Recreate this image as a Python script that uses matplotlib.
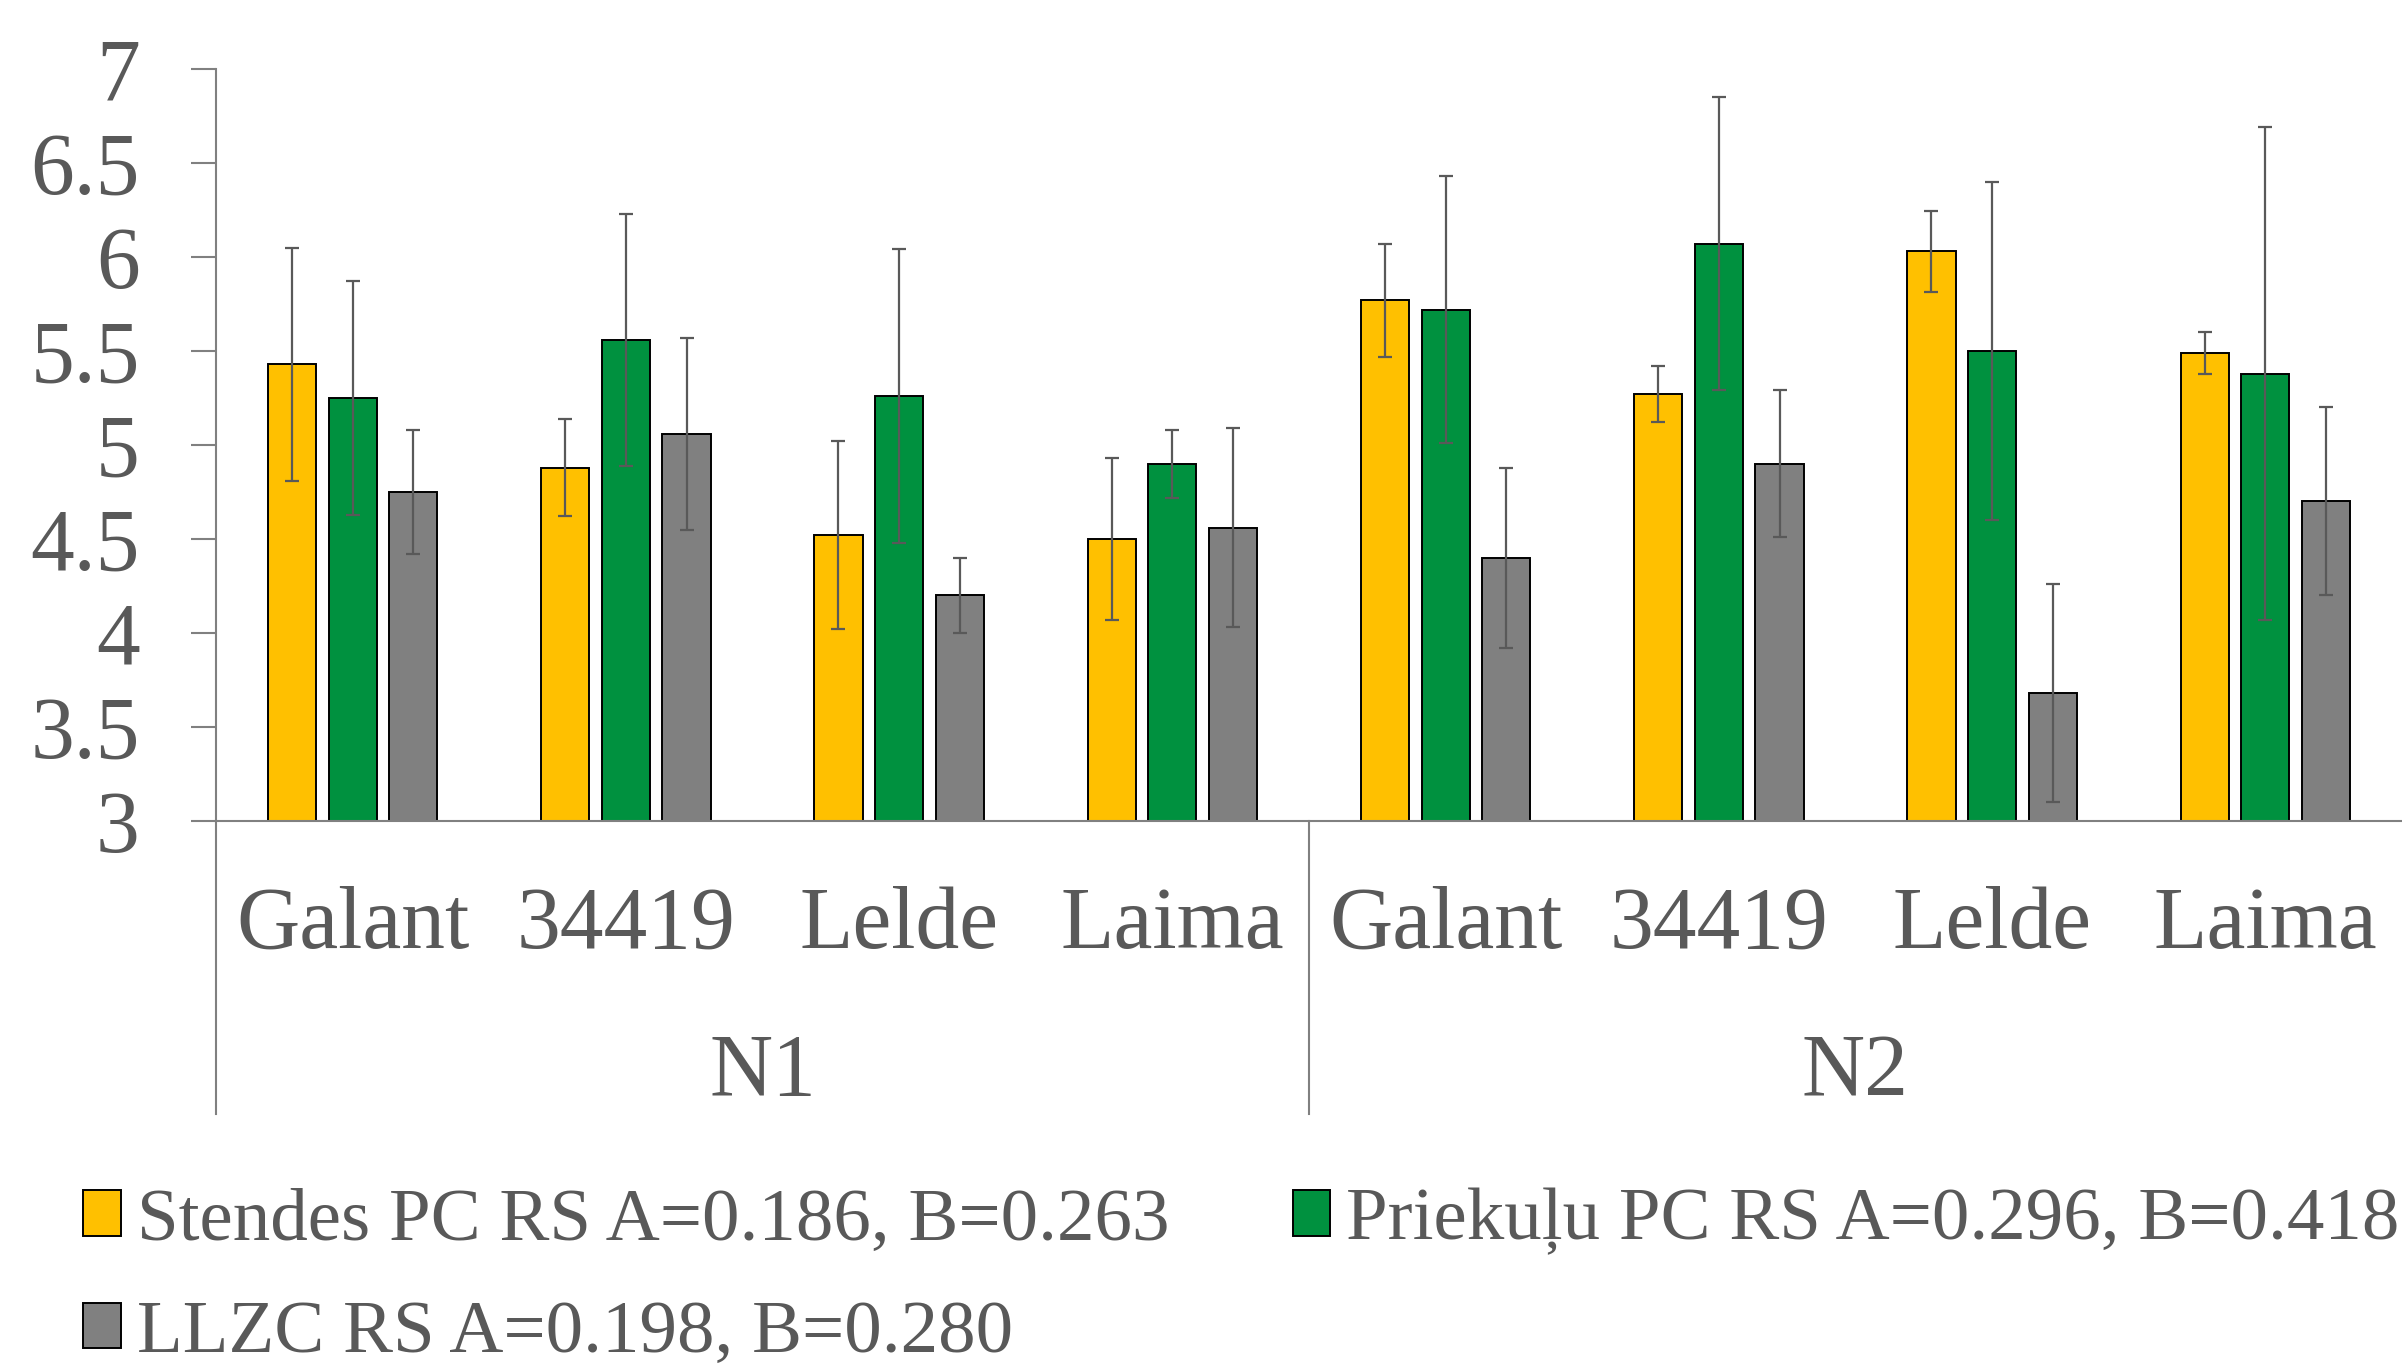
import matplotlib
matplotlib.use("Agg")
import matplotlib.pyplot as plt
import matplotlib.transforms as mtransforms
import numpy as np

# ---- data ----
cultivars = ["Galant", "34419", "Lelde", "Laima", "Galant", "34419", "Lelde", "Laima"]
groups = ["N1", "N2"]
series_labels = ["Stendes PC RS A=0.186, B=0.263",
                 "Priekuļu PC RS A=0.296, B=0.418",
                 "LLZC RS A=0.198, B=0.280"]
stendes = [5.43, 4.88, 4.52, 4.50, 5.77, 5.27, 6.03, 5.49]
stendes_err = [0.62, 0.26, 0.50, 0.43, 0.30, 0.15, 0.215, 0.11]
priekulu = [5.25, 5.56, 5.26, 4.90, 5.72, 6.07, 5.50, 5.38]
priekulu_err = [0.62, 0.67, 0.78, 0.18, 0.71, 0.78, 0.90, 1.31]
llzc = [4.75, 5.06, 4.20, 4.56, 4.40, 4.90, 3.68, 4.70]
llzc_err = [0.33, 0.51, 0.20, 0.53, 0.48, 0.39, 0.58, 0.50]

colors = ["#FFC000", "#00913F", "#808080"]
text_color = "#595959"

plt.rcParams['font.family'] = ['Liberation Serif', 'DejaVu Serif']

W, H = 2402, 1364
fig = plt.figure(figsize=(W / 100, H / 100), dpi=100)
ax_left, ax_right = 216 / W, 1.0
ax_top, ax_bottom = 1 - 69 / H, 1 - 821 / H
ax = fig.add_axes([ax_left, ax_bottom, ax_right - ax_left, ax_top - ax_bottom])

x = np.arange(len(cultivars))
width = 0.176
offset = 0.222
vals = [stendes, priekulu, llzc]
errs = [stendes_err, priekulu_err, llzc_err]
handles = []
for i, (v, e) in enumerate(zip(vals, errs)):
    v = np.array(v)
    b = ax.bar(x + (i - 1) * offset, v - 3, width, bottom=3, color=colors[i],
               edgecolor="black", linewidth=1.4, label=series_labels[i], zorder=2)
    ax.errorbar(x + (i - 1) * offset, v, yerr=e, fmt="none", ecolor="#595959",
                elinewidth=1.6, capsize=5, capthick=1.6, zorder=3)
    handles.append(b)

ax.set_xlim(-0.5, 7.5)
ax.set_ylim(3, 7)
yt = np.arange(3, 7.01, 0.5)
ax.set_yticks(yt)
ax.set_yticklabels([f"{t:g}" for t in yt])
ax.tick_params(axis="y", length=18, width=1.5, color="#808080", pad=37,
               labelsize=63, labelcolor=text_color)
ax.set_xticks([])
for s in ["top", "right"]:
    ax.spines[s].set_visible(False)
for s in ["left", "bottom"]:
    ax.spines[s].set_color("#808080")
    ax.spines[s].set_linewidth(1.5)

trans = mtransforms.blended_transform_factory(ax.transData, ax.transAxes)
axh = 821 - 69
for i, c in enumerate(cultivars):
    ax.text(i, -(948 - 821) / axh, c, transform=trans, ha="center", va="baseline",
            fontsize=63, color=text_color)
for j, g in enumerate(groups):
    ax.text(1.5 + 4 * j, -(1095 - 821) / axh, g, transform=trans, ha="center",
            va="baseline", fontsize=63, color=text_color)
for xs in [-0.5, 3.5]:
    ax.plot([xs, xs], [0, -(1114 - 821) / axh], transform=trans, color="#808080",
            linewidth=1.5, clip_on=False)

fs = 54
order = [0, 2, 1]
fig.legend(handles=[handles[k] for k in order], labels=[series_labels[k] for k in order],
           loc="upper left", bbox_to_anchor=(83 / W, 1 - 1188 / H), ncol=2, frameon=False,
           fontsize=fs, labelcolor=text_color, handlelength=0.5, handleheight=0.55,
           handletextpad=0.22, columnspacing=1.64, labelspacing=0.6,
           borderpad=0, borderaxespad=0)

fig.savefig("out.png", dpi=100)
